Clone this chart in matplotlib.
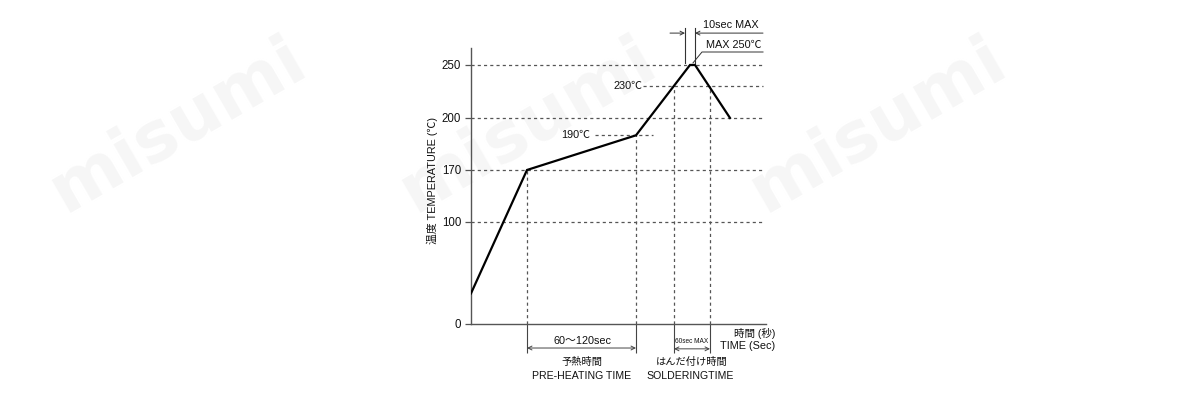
import numpy as np
import matplotlib
matplotlib.use('Agg')
import matplotlib.pyplot as plt

plt.rcParams['font.family'] = ['Liberation Sans', 'Noto Sans CJK JP', 'DejaVu Sans']

# ---------------- data ----------------
profile_time = [0, 56, 165, 219, 224, 259]
profile_temp = [30, 170, 190, 250, 250, 200]
ytick_values = [0, 100, 170, 200, 250]
ytick_labels = ['0', '100', '170', '200', '250']
full_grid_temps = [100, 170, 200, 250]
guide_times = [56, 165, 203, 239]
guide_temps = [170, 190, 230, 230]
preheat_span = [56, 165]
solder_span = [203, 239]
peak_span = [214, 224]

# schematic (piecewise) temperature scale knots
T_KNOTS = np.array([0.0, 100.0, 170.0, 200.0, 250.0])
H_KNOTS = np.array([0.0, 102.0, 154.0, 206.0, 259.0])


def _pw(v, xs, ys):
    v = np.asarray(v, dtype=float)
    out = np.interp(v, xs, ys)
    s_lo = (ys[1] - ys[0]) / (xs[1] - xs[0])
    s_hi = (ys[-1] - ys[-2]) / (xs[-1] - xs[-2])
    out = np.where(v < xs[0], ys[0] + (v - xs[0]) * s_lo, out)
    out = np.where(v > xs[-1], ys[-1] + (v - xs[-1]) * s_hi, out)
    return out


def fwd(v):
    return _pw(v, T_KNOTS, H_KNOTS)


def inv(v):
    return _pw(v, H_KNOTS, T_KNOTS)


W, H = 1198, 400
fig = plt.figure(figsize=(W / 100, H / 100), dpi=100)
fig.patch.set_facecolor('white')

# faint watermark
wm_pos = [(178, 125), (528, 125), (878, 125)]
for (px, py) in wm_pos:
    fig.text(px / W, 1 - py / H, 'misumi', rotation=30, fontsize=50,
             fontweight='bold', color='#f6f6f6', ha='center', va='center',
             family='DejaVu Sans', zorder=-10)

ax = fig.add_axes([471 / W, 76 / H, 295 / W, 276 / H])
ax.patch.set_alpha(0)
ax.set_yscale('function', functions=(fwd, inv))
ax.set_xlim(0, 295)
ax.set_ylim(0, 266)

for s in ['top', 'right']:
    ax.spines[s].set_visible(False)
for s in ['left', 'bottom']:
    ax.spines[s].set_color('#555555')
    ax.spines[s].set_linewidth(1.0)

ax.set_xticks([])
ax.set_yticks(ytick_values)
ax.set_yticklabels(ytick_labels)
ax.yaxis.set_minor_locator(matplotlib.ticker.NullLocator())
ax.tick_params(axis='y', length=4, width=0.9, color='#555555', pad=3,
               labelsize=8.3, labelcolor='#111111')

dash = (0, (2.5, 2.5))
gcol = '#555555'
ax.hlines(full_grid_temps, 0, 292, colors=gcol, linestyles=dash, lw=0.9)
ax.hlines(190, 124, 182, colors=gcol, linestyles=dash, lw=0.9)
ax.hlines(230, 172, 292, colors=gcol, linestyles=dash, lw=0.9)
for t, tp in zip(guide_times, guide_temps):
    ax.vlines(t, 0, tp, colors=gcol, linestyles=dash, lw=0.9)

xt = ax.get_xaxis_transform()
for t in guide_times:
    ax.vlines(t, -0.105, 0, transform=xt, colors='#444444', lw=0.8, clip_on=False)

ax.plot(profile_time, profile_temp, color='black', lw=1.6,
        solid_joinstyle='miter', zorder=5)

tc = '#111111'
fs = 7.8
ax.text(119, 190, '190℃', ha='right', va='center', fontsize=fs, color=tc)
ax.text(171, 230, '230℃', ha='right', va='center', fontsize=fs, color=tc)

ax.text(-0.132, 0.52, '温度 TEMPERATURE (℃)', transform=ax.transAxes,
        rotation=90, ha='center', va='center', fontsize=7.8, color=tc)

# bottom annotations
ap = dict(arrowstyle='<->', lw=0.7, color='#444444', shrinkA=0, shrinkB=0,
          mutation_scale=7)
ax.annotate('', xy=(preheat_span[0], -0.087), xytext=(preheat_span[1], -0.087),
            xycoords=xt, textcoords=xt, arrowprops=ap, annotation_clip=False)
ax.annotate('', xy=(solder_span[0], -0.09), xytext=(solder_span[1], -0.09),
            xycoords=xt, textcoords=xt, arrowprops=ap, annotation_clip=False)

ax.text(112, -0.062, '60〜120sec', transform=xt, ha='center', va='center',
        fontsize=fs, color=tc)
ax.text(221, -0.065, '60sec MAX', transform=xt, ha='center', va='center',
        fontsize=4.7, color=tc)
ax.text(111, -0.138, '予熱時間', transform=xt, ha='center', va='center',
        fontsize=7.4, color=tc)
ax.text(110.5, -0.188, 'PRE-HEATING TIME', transform=xt, ha='center', va='center',
        fontsize=7.6, color=tc)
ax.text(221, -0.138, 'はんだ付け時間', transform=xt, ha='center', va='center',
        fontsize=7.4, color=tc)
ax.text(219, -0.188, 'SOLDERINGTIME', transform=xt, ha='center', va='center',
        fontsize=7.6, color=tc)
ax.text(304, -0.033, '時間 (秒)', transform=xt, ha='right', va='center',
        fontsize=7.6, color=tc)
ax.text(304, -0.080, 'TIME (Sec)', transform=xt, ha='right', va='center',
        fontsize=7.8, color=tc)

# top annotations (10sec MAX, MAX 250)
for t in peak_span:
    ax.plot([t, t], [0.946, 1.072], transform=xt, color='#333333', lw=0.8,
            clip_on=False)
ap1 = dict(arrowstyle='->', lw=0.7, color='#333333', shrinkA=0, shrinkB=0,
           mutation_scale=7)
ax.annotate('', xy=(peak_span[0], 1.054), xytext=(199, 1.054),
            xycoords=xt, textcoords=xt, arrowprops=ap1, annotation_clip=False)
ax.annotate('', xy=(peak_span[1], 1.054), xytext=(292, 1.054),
            xycoords=xt, textcoords=xt, arrowprops=ap1, annotation_clip=False)
ax.text(259.5, 1.083, '10sec MAX', transform=xt, ha='center', va='center',
        fontsize=fs, color=tc)
ax.text(262.5, 1.011, 'MAX 250℃', transform=xt, ha='center', va='center',
        fontsize=fs, color=tc)
ax.plot([222, 231, 292], [0.946, 0.9855, 0.9855], transform=xt, color='#333333',
        lw=0.7, clip_on=False)

fig.savefig('out.png', dpi=100)
